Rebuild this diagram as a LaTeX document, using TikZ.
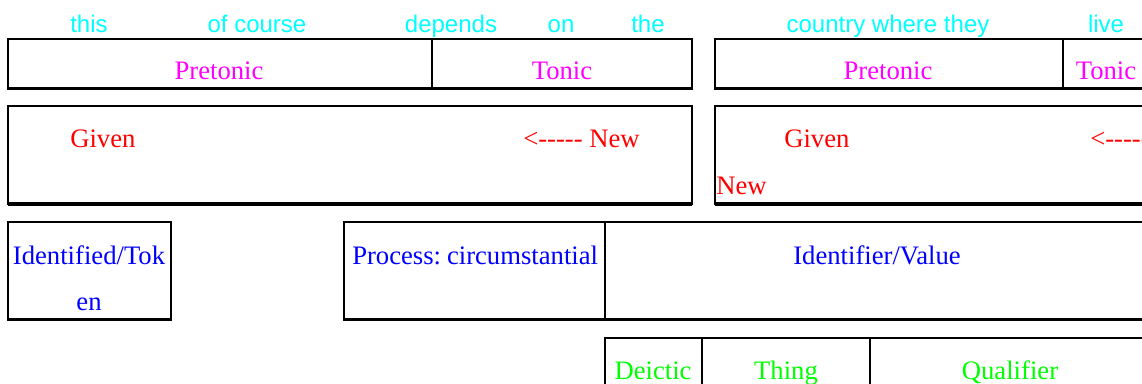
\documentclass[tikz,border=0pt]{standalone}
\usepackage{fontspec}
\setmainfont{Liberation Serif}
\newfontfamily\wordfont{Liberation Sans}
\usepackage{xcolor}
\usepackage{tikz}

\definecolor{wordcyan}{RGB}{0,255,255}
\definecolor{tonemag}{RGB}{255,0,255}
\definecolor{infored}{RGB}{255,0,0}
\definecolor{transblue}{RGB}{0,0,255}
\definecolor{groupgreen}{RGB}{0,255,0}

\tikzset{
	cell/.style={line width=1.5pt},
	foot/.style={line width=2.9pt},
	label/.style={inner sep=0pt,anchor=base,font=\fontsize{20}{24}\selectfont},
	word/.style={inner sep=0pt,anchor=base,text=wordcyan,font=\wordfont\fontsize{18}{20}\selectfont},
	tone/.style={label,text=tonemag},
	info/.style={label,text=infored,anchor=base west},
	trans/.style={label,text=transblue},
	group/.style={label,text=groupgreen}
}

\begin{document}
\begin{tikzpicture}[x=0.75pt,y=-0.75pt]
	\clip (0,0) rectangle (1142,383);
	% words of the clause
	\node[word] (w1) at (89,32) {this};
	\node[word] (w2) at (257,32) {of course};
	\node[word] (w3) at (451,32) {depends};
	\node[word] (w4) at (561,32) {on};
	\node[word] (w5) at (648,32) {the};
	\node[word] (w6) at (888,32) {country where they};
	\node[word] (w7) at (1106,32) {live};
	% tone groups
	\draw[cell] (8,38.5) rectangle (692,88.5);
	\draw[cell] (432,38.5) -- (432,88.5);
	\draw[foot] (8,88.5) -- (692,88.5);
	\draw[cell] (715,38.5) rectangle (1170,88.5);
	\draw[cell] (1063,38.5) -- (1063,88.5);
	\draw[foot] (715,88.5) -- (1170,88.5);
	\node[tone] (pre1) at (219,79) {Pretonic};
	\node[tone] (ton1) at (562,79) {Tonic};
	\node[tone] (pre2) at (888,79) {Pretonic};
	\node[tone] (ton2) at (1106,79) {Tonic};
	% information units
	\draw[cell] (8,106) rectangle (692,204);
	\draw[foot] (8,204) -- (692,204);
	\draw[cell] (715,106) rectangle (1170,204);
	\draw[foot] (715,204) -- (1170,204);
	\node[info] (giv1) at (70,147) {Given};
	\node[info] (new1) at (523,147) {<{-}{-}{-}{-}{-} New};
	\node[info] (giv2) at (784,147) {Given};
	\node[info] (arr2) at (1090,147) {<{-}{-}{-}{-}{-}};
	\node[info] (new2) at (716,194) {New};
	% transitivity
	\draw[cell] (8,221.5) rectangle (171,319.5);
	\draw[foot] (8,319.5) -- (171,319.5);
	\draw[cell] (344,221.5) rectangle (1170,319.5);
	\draw[cell] (605,221.5) -- (605,319.5);
	\draw[foot] (344,319.5) -- (1170,319.5);
	\node[trans] (tok) at (89,264) {Identified/Tok};
	\node[trans] (tok2) at (89,310) {en};
	\node[trans,anchor=base west] (proc) at (352,264) {Process:\hspace{0.22em}circumstantial};
	\node[trans] (val) at (877,264) {Identifier/Value};
	% nominal group
	\draw[cell] (605,338) rectangle (1170,420);
	\draw[cell] (702,338) -- (702,420);
	\draw[cell] (870,338) -- (870,420);
	\node[group] (dei) at (653,379) {Deictic};
	\node[group] (thg) at (786,379) {Thing};
	\node[group] (qua) at (1010,379) {Qualifier};
\end{tikzpicture}
\end{document}
